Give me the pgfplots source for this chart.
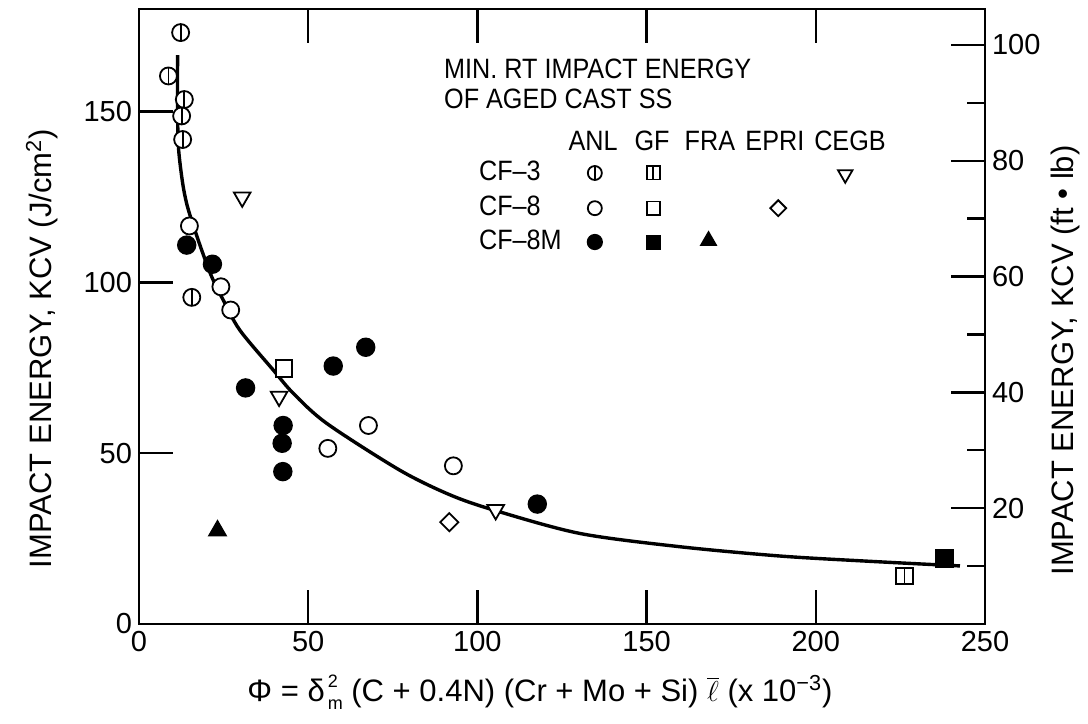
\documentclass[border=0pt]{standalone}
\usepackage{fontspec}
\setmainfont{Liberation Sans}
\newfontfamily\lettering[FakeStretch=0.9]{Liberation Sans}
\usepackage{pgfplots}
\pgfplotsset{compat=1.18}
\usetikzlibrary{calc}

% circle crossed by a vertical stroke (ANL, CF-3)
\pgfdeclareplotmark{ophi}{%
  \pgfpathcircle{\pgfpointorigin}{\pgfplotmarksize}%
  \pgfusepathqfillstroke
  \pgfpathmoveto{\pgfqpoint{0pt}{\pgfplotmarksize}}%
  \pgfpathlineto{\pgfqpoint{0pt}{-\pgfplotmarksize}}%
  \pgfusepathqstroke}
% square split by a vertical stroke (GF, CF-3)
\pgfdeclareplotmark{sqbar}{%
  \pgfpathrectangle{\pgfqpoint{-\pgfplotmarksize}{-\pgfplotmarksize}}%
                   {\pgfqpoint{2\pgfplotmarksize}{2\pgfplotmarksize}}%
  \pgfusepathqfillstroke
  \pgfpathmoveto{\pgfqpoint{0pt}{\pgfplotmarksize}}%
  \pgfpathlineto{\pgfqpoint{0pt}{-\pgfplotmarksize}}%
  \pgfusepathqstroke}

\newcommand{\ticksize}{\fontsize{14.5}{16}\selectfont}
\newcommand{\legsize}{\lettering\fontsize{14}{16}\selectfont}
\newcommand{\labsize}{\fontsize{15.5}{17}\selectfont}
\newcommand{\idx}[1]{{\fontsize{9}{9}\selectfont #1}}

\pgfplotsset{
  frame/.style={
    scale only axis, width=423pt, height=307.5pt,
    xmin=0, xmax=250,
    tick align=inside,
    major tick length=17pt, minor tick length=9pt,
    axis line style={line width=1.2pt},
    every tick/.style={black, line width=1.2pt},
    tick label style={font=\ticksize},
    /pgf/number format/assume math mode=true,
    clip=false,
  },
  open/.style={only marks, mark size=#1,
    mark options={line width=0.9pt, fill=white, draw=black}},
  solid/.style={only marks, mark size=#1,
    mark options={line width=0.9pt, fill=black, draw=black}},
  openrot/.style 2 args={only marks, mark size=#1,
    mark options={line width=0.9pt, fill=white, draw=black, rotate=#2}},
}

\begin{document}
\begin{tikzpicture}
\begin{axis}[frame, name=main,
  ymin=0, ymax=180,
  xtick={0,50,...,250}, ytick={0,50,100,150},
  xtick pos=both, xticklabel pos=lower, ytick pos=left,
]
% fitted trend
\addplot[black, line width=1.7pt, smooth, tension=0.5] coordinates {
  (11.4,166.5) (11.4,150) (11.7,139) (12.9,129) (14.1,123) (15.6,118)
  (18.5,109.5) (21.5,101.6) (24.9,94.8) (29.8,86) (39.7,74.3) (45.6,67.5)
  (55.5,58.7) (77.1,45) (91.9,37.8) (105,33.3) (130.3,26.5) (160,22.6)
  (189.4,19.9) (215,18.4) (242.6,17.0)};
% ANL CF-3
\addplot[open=4.25pt, mark=ophi] coordinates {
  (12.3,173.1) (8.7,160.4) (13.4,153.5) (12.6,148.7) (12.9,141.8) (15.6,95.6)};
% ANL CF-8
\addplot[open=4.25pt, mark=*] coordinates {
  (14.9,116.5) (24.2,98.7) (27.1,91.9) (55.8,51.4) (67.8,58.1) (92.9,46.3)};
% ANL CF-8M
\addplot[solid=4.4pt, mark=*] coordinates {
  (14.1,110.9) (21.7,105.3) (31.5,69.1) (42.6,58.1) (42.3,52.9) (42.5,44.6)
  (57.4,75.5) (67.0,81.0) (117.7,35.1)};
% GF CF-3, CF-8, CF-8M
\addplot[open=4.1pt, mark=sqbar] coordinates {(226.2,14.1)};
\addplot[open=4.1pt, mark=square*] coordinates {(42.8,74.8)};
\addplot[solid=4.1pt, mark=square*] coordinates {(238.0,19.2)};
% FRA CF-8M
\addplot[solid=4.8pt, mark=triangle*] coordinates {(23.2,27.3)};
% EPRI CF-8
\addplot[openrot={3.2pt}{45}, mark=square*] coordinates {(91.7,29.8)};
% CEGB CF-3
\addplot[openrot={4.8pt}{180}, mark=triangle*] coordinates {
  (30.5,124.9) (41.4,66.6) (105.4,33.4)};

% key symbols
\addplot[open=3.5pt, mark=ophi] coordinates {(134.7,132.0)};
\addplot[open=3.5pt, mark=*] coordinates {(134.7,121.7)};
\addplot[solid=3.6pt, mark=*] coordinates {(134.7,111.8)};
\addplot[open=3.3pt, mark=sqbar] coordinates {(152.0,132.0)};
\addplot[open=3.3pt, mark=square*] coordinates {(152.0,121.7)};
\addplot[solid=3.3pt, mark=square*] coordinates {(152.0,111.8)};
\addplot[solid=4.2pt, mark=triangle*] coordinates {(168.3,112.2)};
\addplot[openrot={2.8pt}{45}, mark=square*] coordinates {(188.9,121.7)};
\addplot[openrot={4.2pt}{180}, mark=triangle*] coordinates {(208.7,131.6)};

% key text
\begin{scope}[font=\legsize]
\node[anchor=base west] at (axis cs:88.1,159.8) {MIN. RT IMPACT ENERGY};
\node[anchor=base west] at (axis cs:88.1,151.0) {OF AGED CAST SS};
\node[anchor=base] at (axis cs:134.2,138.7) {ANL};
\node[anchor=base] at (axis cs:151.6,138.7) {GF};
\node[anchor=base] at (axis cs:168.7,138.7) {FRA};
\node[anchor=base] at (axis cs:187.9,138.7) {EPRI};
\node[anchor=base] at (axis cs:210.1,138.7) {CEGB};
\node[anchor=base west] at (axis cs:98.4,129.9) {CF–3};
\node[anchor=base west] at (axis cs:98.4,119.7) {CF–8};
\node[anchor=base west] at (axis cs:98.4,109.5) {CF–8M};
\end{scope}

% axis titles
\node[rotate=90, font=\labsize] at ($(rel axis cs:0,0.5)+(-48.5pt,-16pt)$)
  {IMPACT ENERGY, KCV (J/cm\textsuperscript{2})};
\node[font=\labsize] at ($(axis cs:118.5,0)+(0,-34pt)$)
  {Φ = δ\kern1.5pt\rlap{\raisebox{7pt}{\idx{2}}}\raisebox{-4pt}{\idx{m}} (C + 0.4N) (Cr + Mo + Si) $\overline{\ell}$ (x 10\textsuperscript{−3})};
\end{axis}

% ft-lb scale on the right
\begin{axis}[frame,
  ymin=0, ymax=106.2,
  axis y line*=right, axis x line=none,
  ytick={20,40,...,100}, minor ytick={10,30,...,90},
]
\addplot[draw=none] coordinates {(0,0)};
\node[rotate=90, font=\labsize] at ($(rel axis cs:1,0.5)+(40pt,-22pt)$)
  {IMPACT ENERGY, KCV (ft • lb)};
\end{axis}

\pgfresetboundingbox
\path[use as bounding box] ($(main.south west)+(-69.5pt,-49.5pt)$)
  rectangle ($(main.north east)+(51.5pt,4.5pt)$);
\end{tikzpicture}
\end{document}
